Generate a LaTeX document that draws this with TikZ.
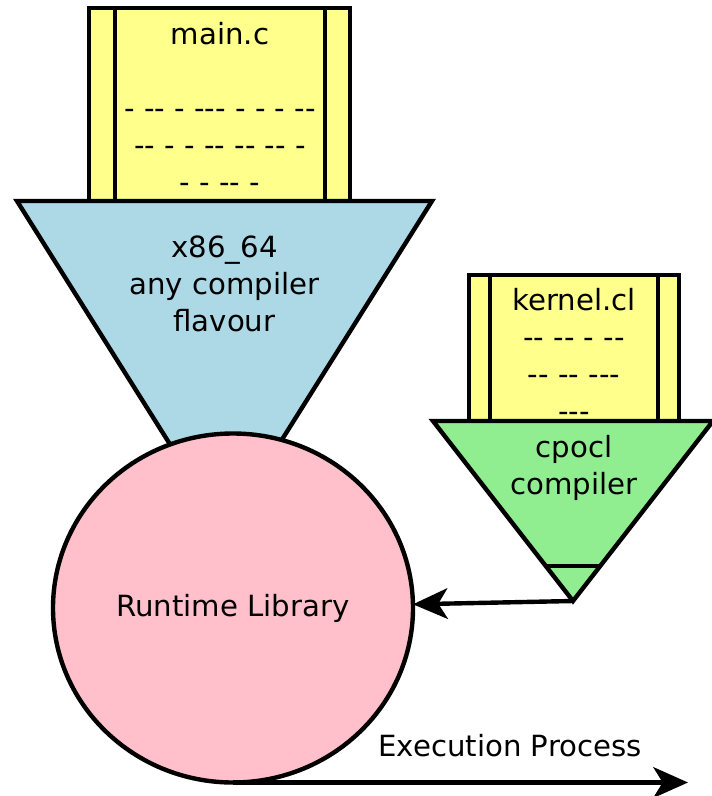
\documentclass[tikz,border=0pt]{standalone}
\usepackage{fontspec}
\newfontfamily\labelfont{DejaVu Sans}
\usetikzlibrary{shapes.geometric,arrows.meta}
\definecolor{fileyellow}{RGB}{255,255,140}
\definecolor{hostblue}{RGB}{173,216,230}
\definecolor{devgreen}{RGB}{144,238,144}
\definecolor{runpink}{RGB}{255,192,203}
\tikzset{
  outline/.style={draw=black, line width=3.3pt},
  srcfile/.style={outline, fill=fileyellow},
  txt/.style={font=\labelfont\fontsize{21.9}{27.75}\selectfont, inner sep=0pt, align=center},
  flow/.style={-{Stealth[length=26pt,width=23pt,inset=7pt]}, line width=3.3pt},
}
\begin{document}
\begin{tikzpicture}[x=0.75pt,y=-0.75pt]
\useasboundingbox (0,0) rectangle (711,796);

% host source file
\draw[srcfile] (89,8) rectangle (350,201);
\draw[outline] (115,8) -- (115,201);
\draw[outline] (325,8) -- (325,201);
\node[txt, anchor=base] (mainsrc) at (220,192)
  {main.c\\ \mbox{}\\ - -- - --- - - - --\\ -- - - -- -- -- -\\ - - -- -};

% host compiler funnel
\draw[outline, fill=hostblue] (17,201) -- (432,201) -- (224.5,531) -- cycle;
\node[txt, anchor=base] (hostcc) at (224.5,331) {x86\_64\\ any compiler\\ flavour};

% runtime library
\node[outline, fill=runpink, ellipse, minimum width=270pt, minimum height=261.75pt,
      inner sep=0pt, outer sep=0pt, txt] (rt) at (233,608) {Runtime Library};

% kernel source file
\draw[srcfile] (469,275) rectangle (679,421);
\draw[outline] (490,275) -- (490,421);
\draw[outline] (658,275) -- (658,421);
\node[txt, anchor=base] (kernsrc) at (574,421) {kernel.cl\\ -- -- - --\\ -- -- ---\\ ---};

% device compiler funnel
\draw[outline, fill=devgreen] (433,421) -- (713,421) -- (573,601) -- cycle;
\draw[outline] (545,566) -- (601,566);
\coordinate (devout) at (573,601);
\node[txt, anchor=base] (devcc) at (574,494) {cpocl\\ compiler};

% connectors
\draw[flow] (devout) -- (rt);
\coordinate (exend) at (688,782);
\draw[flow] (rt.south) -- (rt.south -| exend);
\node[txt, anchor=base] (exlabel) at (510,756) {Execution Process};
\end{tikzpicture}
\end{document}
